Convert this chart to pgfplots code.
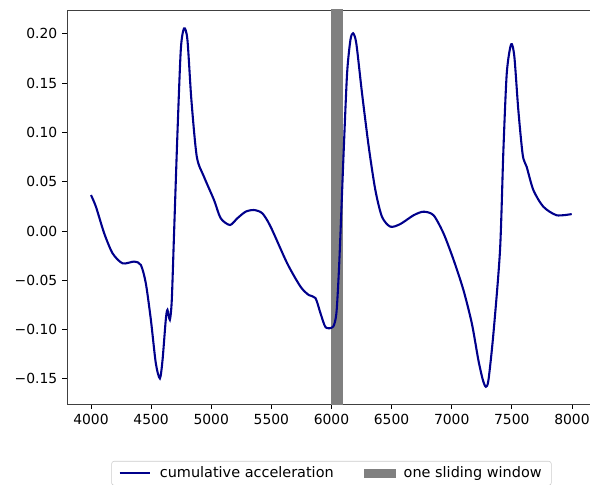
\documentclass[border=0pt]{standalone}
\usepackage{fontspec}
\setmainfont{DejaVu Sans}
\usepackage{pgfplots}
\pgfplotsset{compat=1.18}
\definecolor{lineblue}{HTML}{00008B}
\definecolor{bandgray}{HTML}{808080}
\definecolor{legframe}{HTML}{CCCCCC}
\begin{document}
\begin{tikzpicture}
\begin{axis}[
  scale only axis,
  width=380.9pt, height=283.7pt,
  xmin=3800, xmax=8200,
  ymin=-0.1755, ymax=0.2242,
  xtick={4000,4500,5000,5500,6000,6500,7000,7500,8000},
  xticklabels={4000,4500,5000,5500,6000,6500,7000,7500,8000},
  ytick={-0.15,-0.10,-0.05,0,0.05,0.10,0.15,0.20},
  yticklabels={−0.15,−0.10,−0.05,0.00,0.05,0.10,0.15,0.20},
  tick align=outside,
  xtick pos=bottom, ytick pos=left,
  major tick length=3.5pt,
  tick style={black, line width=0.6pt},
  axis line style={line width=0.6pt, black!75},
  tick label style={font=\fontsize{10}{12}\selectfont},
  /pgf/number format/assume math mode=true,
  legend columns=2,
  legend style={at={(0.5,-0.1445)}, anchor=north, draw=legframe, rounded corners=2pt,
    font=\fontsize{10.4}{12}\selectfont, inner xsep=5pt, inner ysep=2pt,
    /tikz/every odd column/.append style={column sep=4pt},
    /tikz/every even column/.append style={column sep=20pt}},
  legend cell align=left,
  clip=true,
]
\addplot[fill=bandgray, draw=none, forget plot] coordinates {(6000,-0.3) (6100,-0.3) (6100,0.3) (6000,0.3)} -- cycle;
\addplot[lineblue, line width=1.5pt, smooth, tension=0.45,
  legend image code/.code={\draw[lineblue, line width=1.5pt, sharp corners] (0pt,0pt) -- (22.3pt,0pt);}]
coordinates {
(4000,0.0365) (4041,0.0247) (4110,-0.0024) (4180,-0.0227) (4263,-0.0328) (4360,-0.031)
(4415,-0.0345) (4456,-0.053) (4498,-0.090) (4539,-0.134) (4573,-0.1495) (4595,-0.131)
(4622,-0.090) (4636,-0.080) (4656,-0.090) (4672,-0.070) (4691,-0.002) (4719,0.099)
(4747,0.184) (4774,0.2056) (4802,0.194) (4835,0.133) (4880,0.0754) (4940,0.055)
(5023,0.0315) (5079,0.0129) (5156,0.0061) (5217,0.0129) (5286,0.0196) (5355,0.0213)
(5425,0.018) (5494,0.0044) (5632,-0.0328) (5743,-0.0565) (5812,-0.065) (5867,-0.068)
(5909,-0.0835) (5952,-0.0977) (6014,-0.097) (6041,-0.0835) (6060,-0.045) (6075,-0.0024)
(6102,0.082) (6130,0.160) (6158,0.194) (6180,0.2006) (6207,0.190) (6254,0.140)
(6310,0.0855) (6365,0.0416) (6420,0.0145) (6490,0.0044) (6573,0.0071) (6683,0.016)
(6766,0.0196) (6849,0.016) (6932,-0.0024) (7015,-0.029) (7098,-0.060) (7168,-0.094)
(7222,-0.131) (7259,-0.151) (7284,-0.158) (7306,-0.151) (7347,-0.104) (7402,-0.0193)
(7430,0.082) (7458,0.160) (7494,0.1894) (7521,0.177) (7554,0.123) (7591,0.077)
(7624,0.065) (7679,0.0416) (7762,0.0247) (7873,0.016) (7998,0.0172)
};
\addlegendentry{cumulative acceleration}
\addlegendimage{legend image code/.code={\fill[bandgray, sharp corners] (0pt,-3pt) rectangle (22pt,3pt);}}
\addlegendentry{one sliding window}
\end{axis}
\pgfresetboundingbox
\path (current axis.south west) ++(-48.2pt,-57.6pt) rectangle ++(424.8pt,348.5pt);
\end{tikzpicture}
\end{document}
